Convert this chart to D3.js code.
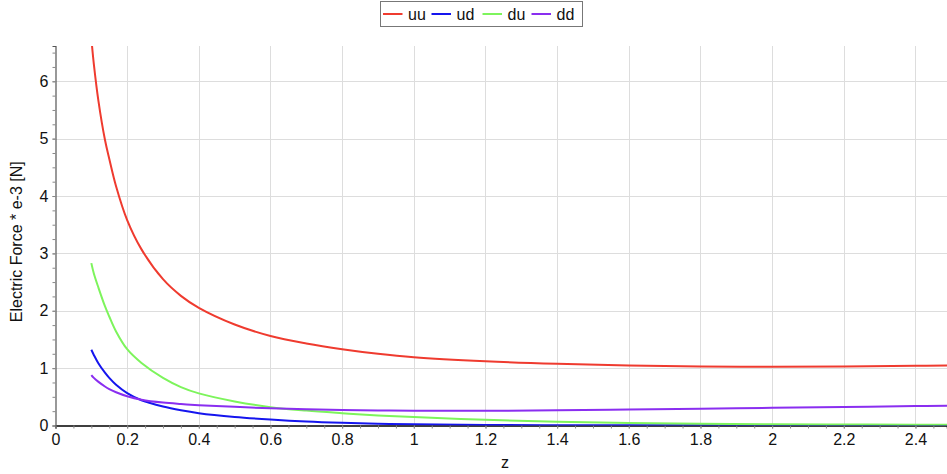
<!DOCTYPE html>
<html>
<head>
<meta charset="utf-8">
<script src="https://cdn.jsdelivr.net/npm/d3@7"></script>
<style>
  html, body { margin: 0; padding: 0; background: #fff; }
  svg { display: block; font-family: "Liberation Sans", Arial, sans-serif; }
</style>
</head>
<body>
<svg id="chart" width="947" height="474"></svg>
<script>
// Sample positions along z
const zValues = [0.1, 0.107, 0.12, 0.138, 0.15, 0.169, 0.2, 0.24, 0.3, 0.35, 0.4, 0.5, 0.6, 0.7, 0.8, 0.9, 1.0, 1.2, 1.4, 1.6, 1.8, 2.0, 2.2, 2.4, 2.49];

// Electric force (×1e-3 N) for each quark pairing
const uuValues = [6.75, 6.3, 5.65, 4.98, 4.65, 4.17, 3.58, 3.07, 2.55, 2.26, 2.05, 1.76, 1.56, 1.43, 1.33, 1.25, 1.19, 1.12, 1.075, 1.045, 1.03, 1.025, 1.03, 1.04, 1.045];
const udValues = [1.32, 1.23, 1.08, 0.92, 0.83, 0.71, 0.565, 0.44, 0.33, 0.265, 0.215, 0.15, 0.105, 0.07, 0.047, 0.031, 0.02, 0.01, 0.006, 0.004, 0.003, 0.002, 0.001, 0.001, 0.001];
const duValues = [2.83, 2.65, 2.4, 2.08, 1.9, 1.64, 1.33, 1.09, 0.83, 0.67, 0.56, 0.42, 0.32, 0.26, 0.215, 0.175, 0.146, 0.10, 0.065, 0.042, 0.03, 0.022, 0.018, 0.015, 0.014];
const ddValues = [0.88, 0.83, 0.76, 0.68, 0.635, 0.58, 0.51, 0.45, 0.40, 0.375, 0.355, 0.325, 0.30, 0.285, 0.272, 0.263, 0.258, 0.256, 0.264, 0.278, 0.293, 0.308, 0.323, 0.338, 0.345];

const seriesNames = ["uu", "ud", "du", "dd"];
const seriesColors = ["#ef3b2f", "#1515ee", "#7df45c", "#8a2ef0"];
const seriesValues = [uuValues, udValues, duValues, ddValues];

// Axis ticks
const xTickValues = [0, 0.2, 0.4, 0.6, 0.8, 1, 1.2, 1.4, 1.6, 1.8, 2, 2.2, 2.4];
const xTickLabels = ["0", "0.2", "0.4", "0.6", "0.8", "1", "1.2", "1.4", "1.6", "1.8", "2", "2.2", "2.4"];
const yTickValues = [0, 1, 2, 3, 4, 5, 6];
const yTickLabels = ["0", "1", "2", "3", "4", "5", "6"];

const xLabel = "z";
const yLabel = "Electric Force * e-3 [N]";

const svg = d3.select("#chart");
const plot = { left: 55.5, right: 947, top: 46, bottom: 425.5 };

const x = d3.scaleLinear().domain([0, 2.488]).range([plot.left, plot.right]);
const y = d3.scaleLinear().domain([0, 6.615]).range([plot.bottom, plot.top]);

svg.append("defs").append("clipPath").attr("id", "plotClip")
  .append("rect")
  .attr("x", plot.left).attr("y", plot.top)
  .attr("width", plot.right - plot.left).attr("height", plot.bottom - plot.top);

// Grid
const grid = svg.append("g").attr("stroke", "#dddddd").attr("stroke-width", 1);
grid.selectAll("line.v").data(xTickValues.filter(d => d > 0)).join("line")
  .attr("x1", d => Math.round(x(d)) + 0.5).attr("x2", d => Math.round(x(d)) + 0.5)
  .attr("y1", plot.top).attr("y2", plot.bottom);
grid.selectAll("line.h").data(yTickValues.filter(d => d > 0)).join("line")
  .attr("y1", d => Math.round(y(d)) + 0.5).attr("y2", d => Math.round(y(d)) + 0.5)
  .attr("x1", plot.left).attr("x2", plot.right);

// Axes
const xAxis = d3.axisBottom(x).tickValues(xTickValues)
  .tickFormat((d, i) => xTickLabels[i]).tickSize(3).tickPadding(5);
const gx = svg.append("g").attr("transform", `translate(0,${plot.bottom})`).call(xAxis);
gx.select(".domain").attr("stroke", "#000").attr("stroke-width", 1.5);
gx.selectAll(".tick line").attr("stroke", "#888");
gx.selectAll("text").attr("font-size", 16).attr("fill", "#111");

const xMinor = d3.axisBottom(x).tickValues(d3.range(0, 2.49, 0.05)).tickFormat("").tickSize(3);
const gxm = svg.append("g").attr("transform", `translate(0,${plot.bottom})`).call(xMinor);
gxm.select(".domain").remove();
gxm.selectAll(".tick line").attr("stroke", "#888");

const yAxis = d3.axisLeft(y).tickValues(yTickValues)
  .tickFormat((d, i) => yTickLabels[i]).tickSize(3).tickPadding(4);
const gy = svg.append("g").attr("transform", `translate(${plot.left},0)`).call(yAxis);
gy.select(".domain").attr("stroke", "#555").attr("stroke-width", 1.2);
gy.selectAll(".tick line").attr("stroke", "#888");
gy.selectAll("text").attr("font-size", 16).attr("fill", "#111");

const yMinor = d3.axisLeft(y).tickValues(d3.range(0, 6.6, 0.25)).tickFormat("").tickSize(3);
const gym = svg.append("g").attr("transform", `translate(${plot.left},0)`).call(yMinor);
gym.select(".domain").remove();
gym.selectAll(".tick line").attr("stroke", "#888");

// Axis titles
svg.append("text").attr("x", 505).attr("y", 468).attr("text-anchor", "middle")
  .attr("font-size", 16).attr("fill", "#111").text(xLabel);
svg.append("text")
  .attr("transform", `translate(22,${(plot.top + plot.bottom) / 2 + 6}) rotate(-90)`)
  .attr("text-anchor", "middle").attr("font-size", 16).attr("fill", "#111").text(yLabel);

// Curves
const line = d3.line().x(d => x(d[0])).y(d => y(d[1])).curve(d3.curveCatmullRom.alpha(0.5));
const curves = svg.append("g").attr("clip-path", "url(#plotClip)");
seriesValues.forEach((vals, i) => {
  curves.append("path")
    .datum(zValues.map((z, j) => [z, vals[j]]))
    .attr("fill", "none")
    .attr("stroke", seriesColors[i])
    .attr("stroke-width", 2)
    .attr("d", line);
});

// Legend
const legend = svg.append("g");
legend.append("rect").attr("x", 380.5).attr("y", 1.5).attr("width", 202).attr("height", 25)
  .attr("fill", "#fff").attr("stroke", "#777");
const legendX = [383, 431.5, 482.5, 531.5];
seriesNames.forEach((name, i) => {
  legend.append("line").attr("x1", legendX[i]).attr("x2", legendX[i] + 19.5)
    .attr("y1", 14).attr("y2", 14).attr("stroke", seriesColors[i]).attr("stroke-width", 2);
  legend.append("text").attr("x", legendX[i] + 25).attr("y", 19.5)
    .attr("font-size", 16).attr("fill", "#111").text(name);
});
</script>
</body>
</html>
